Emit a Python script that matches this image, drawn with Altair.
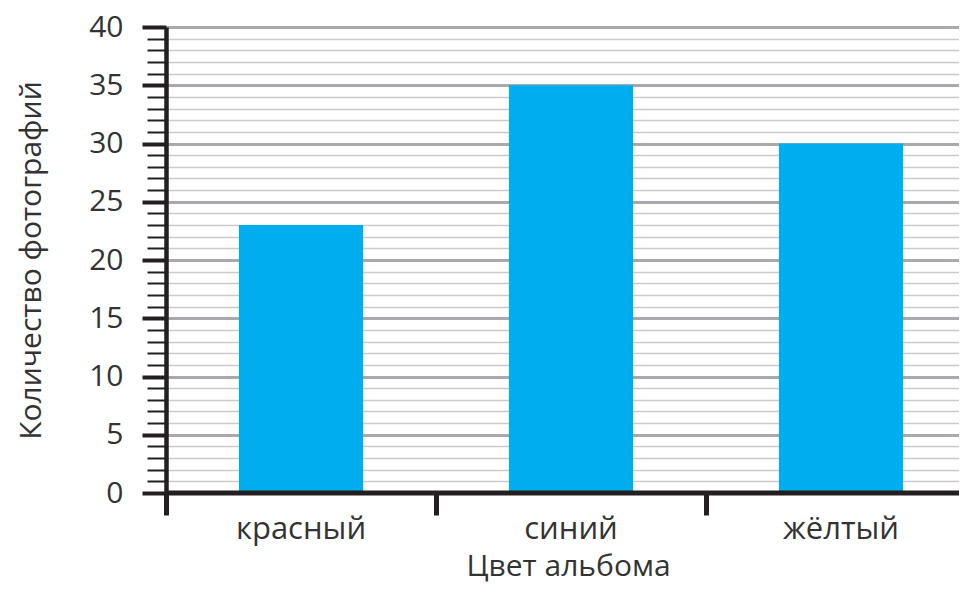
import altair as alt
import pandas as pd

categories = ["красный", "синий", "жёлтый"]
counts = [23, 35, 30]
y_tick_values = list(range(0, 41))
baseline_value = [0]

df = pd.DataFrame({"color": categories, "count": counts})
base_df = pd.DataFrame({"v": baseline_value})

major = "datum.value % 5 === 0"
FONT = "Open Sans"
TXT = "#333333"
AX = "#231f20"

x_axis = alt.Axis(
    title="Цвет альбома",
    labelAngle=0,
    bandPosition=0,
    ticks=True,
    tickSize=22,
    tickWidth=5,
    tickColor=AX,
    domain=False,
    grid=False,
    labelFont=FONT,
    labelFontSize=31,
    labelColor=TXT,
    labelBaseline="alphabetic",
    labelPadding=23,
    titleFont=FONT,
    titleFontSize=30,
    titleFontWeight="normal",
    titleColor=TXT,
    titleBaseline="alphabetic",
    titleAlign="center",
    titleX=402,
    titleY=82,
    zindex=1,
)

y_axis = alt.Axis(
    title="Количество фотографий",
    values=y_tick_values,
    labelExpr="datum.value % 5 === 0 ? datum.label : ''",
    tickSize={"condition": {"test": major, "value": 24}, "value": 19},
    tickWidth={"condition": {"test": major, "value": 4}, "value": 2},
    tickColor=AX,
    domainWidth=4.5,
    domainColor=AX,
    gridColor={"condition": {"test": major, "value": "#a7a9ac"}, "value": "#c9cacc"},
    gridWidth={"condition": {"test": major, "value": 3}, "value": 1.5},
    labelFont=FONT,
    labelFontSize=30,
    labelColor=TXT,
    labelPadding=19,
    titleFont=FONT,
    titleFontSize=30,
    titleFontWeight="normal",
    titleColor=TXT,
    titleAngle=-90,
    titleAlign="center",
    titleBaseline="middle",
    titleX=-135,
    titleY=233,
)

y_scale = alt.Scale(domain=[0, 40], nice=False)

bars = (
    alt.Chart(df)
    .mark_bar(color="#00aeef", width=alt.RelativeBandSize(0.46))
    .encode(
        x=alt.X(
            "color:N",
            sort=categories,
            scale=alt.Scale(range=[0, 810], paddingInner=0, paddingOuter=0),
            axis=x_axis,
        ),
        y=alt.Y("count:Q", scale=y_scale, axis=y_axis),
    )
)

baseline = (
    alt.Chart(base_df)
    .mark_rule(color=AX, strokeWidth=5)
    .encode(y=alt.Y("v:Q", scale=y_scale, axis=y_axis))
)

chart = (
    alt.layer(bars, baseline)
    .properties(
        width=793,
        height=466,
        autosize=alt.AutoSizeParams(type="none"),
        padding={"left": 158, "top": 19, "right": 0, "bottom": 91},
    )
    .configure_view(strokeWidth=0, stroke="transparent")
    .configure(background="white")
)

chart.save("out.html", embed_options={"renderer": "svg", "actions": False})
